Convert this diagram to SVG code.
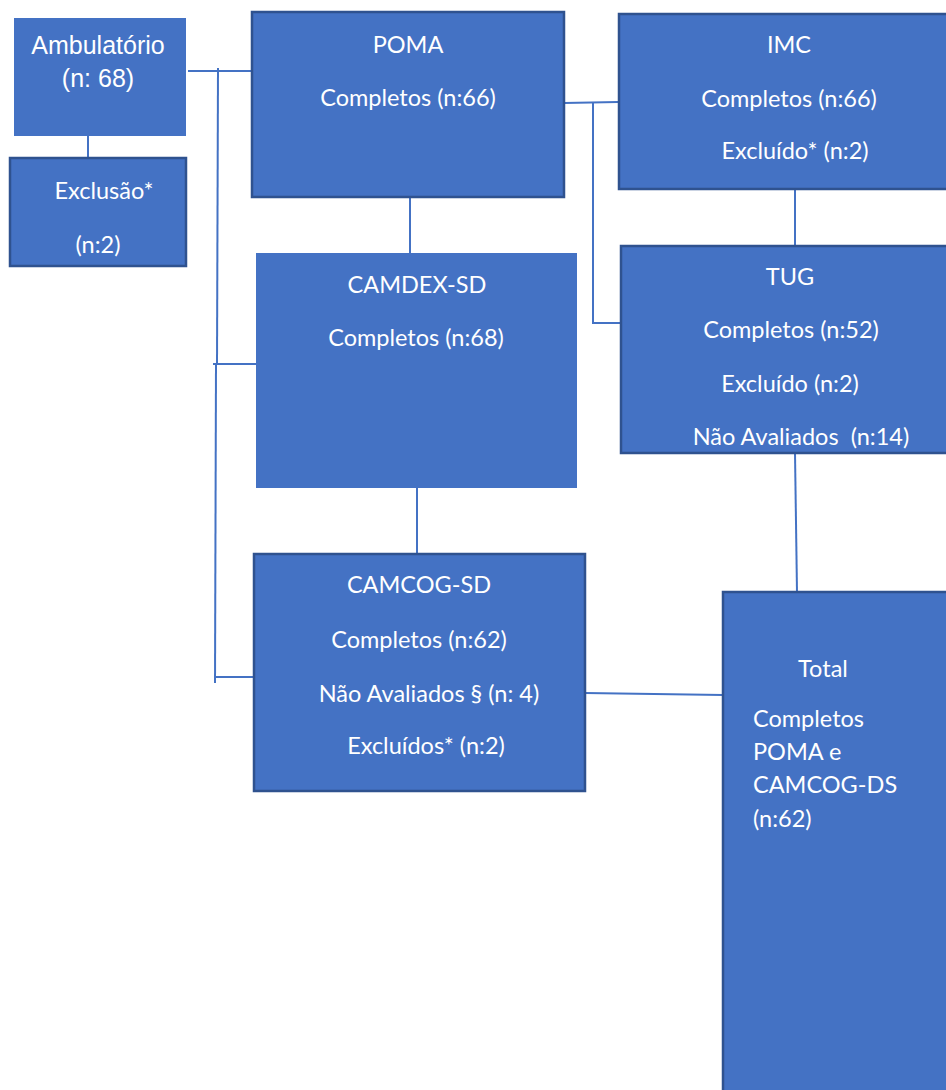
<svg xmlns="http://www.w3.org/2000/svg" width="946" height="1090" viewBox="0 0 946 1090">
<style>
.box{fill:#4472C4;}
.bd{stroke:#2F528F;stroke-width:2.5;}
.c{fill:none;stroke:#4472C4;stroke-width:2;}
.t{fill:#FFFFFF;font-family:Lato,"Liberation Sans",sans-serif;font-size:23.5px;text-anchor:middle;}
.a{fill:#FFFFFF;font-family:"Liberation Sans",Arial,sans-serif;font-size:25px;text-anchor:middle;}
.l{text-anchor:start;}
</style>
<rect width="946" height="1090" fill="#FFFFFF"/>
<g id="connectors">
<line class="c" x1="188" y1="71" x2="252" y2="71"/>
<line class="c" x1="218" y1="68" x2="217" y2="365"/>
<line class="c" x1="216" y1="364" x2="215" y2="683"/>
<line class="c" x1="213" y1="364" x2="256" y2="364"/>
<line class="c" x1="215" y1="677" x2="254" y2="677"/>
<line class="c" x1="88" y1="136" x2="88" y2="158"/>
<line class="c" x1="410" y1="197" x2="410" y2="253"/>
<line class="c" x1="417" y1="488" x2="417" y2="554"/>
<line class="c" x1="564" y1="103" x2="618" y2="102"/>
<polyline class="c" points="593,103 593,323 621,323"/>
<line class="c" x1="795" y1="190" x2="795" y2="246"/>
<line class="c" x1="795" y1="453" x2="797" y2="592"/>
<line class="c" x1="585" y1="693" x2="723" y2="695"/>
</g>
<g id="ambulatorio">
<rect class="box" x="14" y="18" width="172" height="118"/>
<text class="a" x="98" y="54">Ambulatório</text>
<text class="a" x="98" y="87">(n: 68)</text>
</g>
<g id="exclusao">
<rect class="box bd" x="10" y="158" width="176" height="108"/>
<text class="t" x="104" y="199">Exclusão*</text>
<text class="t" x="98" y="253">(n:2)</text>
</g>
<g id="poma">
<rect class="box bd" x="252" y="12" width="312" height="185"/>
<text class="t" x="408" y="53">POMA</text>
<text class="t" x="408" y="106">Completos (n:66)</text>
</g>
<g id="imc">
<rect class="box bd" x="619" y="14" width="332" height="175"/>
<text class="t" x="789" y="53">IMC</text>
<text class="t" x="789" y="107">Completos (n:66)</text>
<text class="t" x="795" y="159">Excluído* (n:2)</text>
</g>
<g id="tug">
<rect class="box bd" x="621" y="246" width="330" height="207"/>
<text class="t" x="790" y="285">TUG</text>
<text class="t" x="791" y="338">Completos (n:52)</text>
<text class="t" x="790" y="392">Excluído (n:2)</text>
<text class="t" x="801" y="445" xml:space="preserve">Não Avaliados  (n:14)</text>
</g>
<g id="camdex">
<rect class="box" x="256" y="253" width="321" height="235"/>
<text class="t" x="417" y="293">CAMDEX-SD</text>
<text class="t" x="416" y="346">Completos (n:68)</text>
</g>
<g id="camcog">
<rect class="box bd" x="254" y="554" width="331" height="237"/>
<text class="t" x="419" y="593">CAMCOG-SD</text>
<text class="t" x="419" y="648">Completos (n:62)</text>
<text class="t" x="429" y="702">Não Avaliados § (n: 4)</text>
<text class="t" x="426" y="754">Excluídos* (n:2)</text>
</g>
<g id="total">
<rect class="box bd" x="723" y="592" width="230" height="505"/>
<text class="t" x="823" y="677">Total</text>
<text class="t l" x="753" y="727">Completos</text>
<text class="t l" x="753" y="760">POMA e</text>
<text class="t l" x="753" y="793">CAMCOG-DS</text>
<text class="t l" x="753" y="827">(n:62)</text>
</g>
</svg>
